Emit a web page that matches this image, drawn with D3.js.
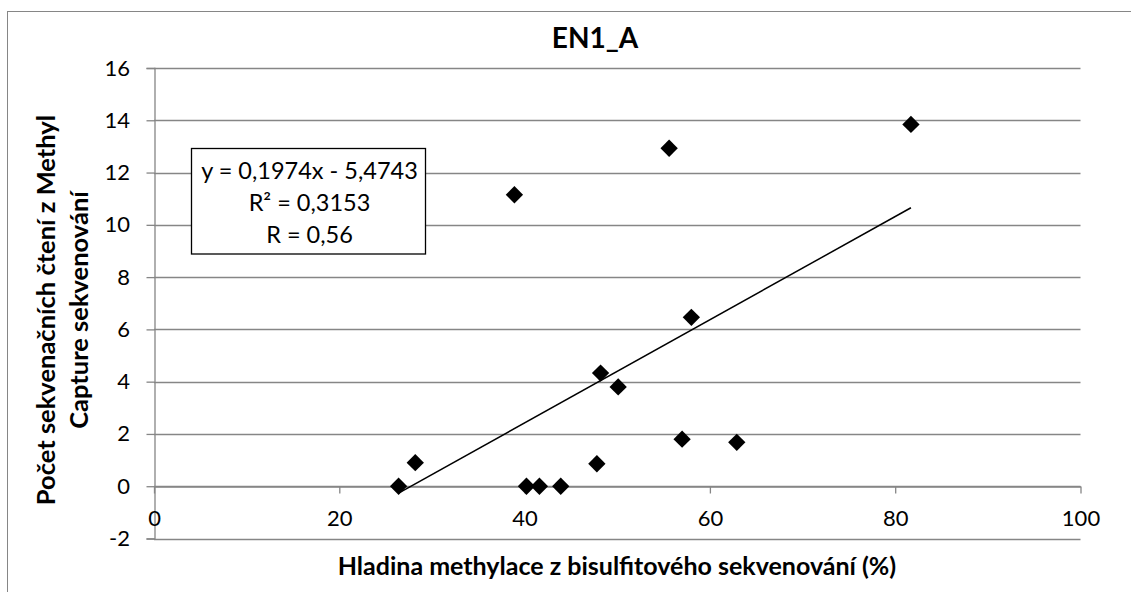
<!DOCTYPE html>
<html><head><meta charset="utf-8">
<script src="https://cdn.jsdelivr.net/npm/d3@7"></script>
<style>
body{margin:0;background:#fff;}
text{font-family:Lato, "Open Sans", sans-serif;fill:#000;}
</style></head>
<body>
<svg id="c" width="1131" height="592"></svg>
<script>
const title = "EN1_A";
const xLabel = "Hladina methylace z bisulfitového sekvenování (%)";
const yLabelLines = ["Počet sekvenačních čtení z Methyl", "Capture sekvenování"];
const xTicks = [0, 20, 40, 60, 80, 100];
const yTicks = [-2, 0, 2, 4, 6, 8, 10, 12, 14, 16];
const xValues = [26.4, 28.2, 40.2, 41.6, 43.9, 47.8, 48.2, 50.1, 57.0, 58.0, 62.9, 38.9, 55.6, 81.7];
const yValues = [0, 0.9, 0, 0, 0, 0.86, 4.33, 3.8, 1.8, 6.46, 1.68, 11.15, 12.93, 13.84];
const slope = 0.1974, intercept = -5.4743;
const eqLines = ["y = 0,1974x - 5,4743", "R² = 0,3153", "R = 0,56"];

const svg = d3.select("#c");
const L = 154, R = 1080.5, T = 68, B = 538.5;
const x = d3.scaleLinear().domain([0, 100]).range([L, R]);
const y = d3.scaleLinear().domain([-2, 16]).range([B, T]);
const grid = "#868686";
const tickFont = 22;

// outer chart border
svg.append("rect").attr("x", 7.5).attr("y", 11.5).attr("width", 1200).attr("height", 700)
  .attr("fill", "none").attr("stroke", grid).attr("stroke-width", 1);

// horizontal gridlines
svg.append("g").selectAll("line").data(yTicks).join("line")
  .attr("x1", L).attr("x2", R)
  .attr("y1", d => Math.round(y(d)) + 0.5).attr("y2", d => Math.round(y(d)) + 0.5)
  .attr("stroke", grid).attr("stroke-width", 1.3);

// y axis
const yAxis = svg.append("g").attr("transform", `translate(${L + 0.5},0)`)
  .call(d3.axisLeft(y).tickValues(yTicks).tickSize(8).tickPadding(16.5).tickFormat(d => d < 0 ? "-" + Math.abs(d) : String(d)));
yAxis.select(".domain").attr("stroke", grid).attr("stroke-width", 1.3);
yAxis.selectAll(".tick line").attr("stroke", grid).attr("stroke-width", 1.3);
yAxis.selectAll(".tick text").attr("font-size", tickFont).attr("font-family", "Lato, sans-serif").attr("fill", "#000");

// x axis at y=0
const xAxis = svg.append("g").attr("transform", `translate(0,${Math.round(y(0)) + 0.5})`)
  .call(d3.axisBottom(x).tickValues(xTicks).tickSizeInner(7).tickSizeOuter(0).tickPadding(17).tickFormat(d3.format("d")));
xAxis.select(".domain").attr("stroke", grid).attr("stroke-width", 1.3);
xAxis.selectAll(".tick line").attr("stroke", grid).attr("stroke-width", 1.3);
xAxis.selectAll(".tick text").attr("font-size", tickFont).attr("font-family", "Lato, sans-serif").attr("fill", "#000");

// trendline over data range
const xmin = d3.min(xValues), xmax = d3.max(xValues);
svg.append("line")
  .attr("x1", x(xmin)).attr("y1", y(slope * xmin + intercept))
  .attr("x2", x(xmax)).attr("y2", y(slope * xmax + intercept))
  .attr("stroke", "#000").attr("stroke-width", 1.5);

// points
const sym = d3.symbol(d3.symbolSquare, 150);
svg.append("g").selectAll("path").data(xValues.map((v, i) => [v, yValues[i]])).join("path")
  .attr("d", sym)
  .attr("transform", d => `translate(${x(d[0])},${y(d[1])}) rotate(45)`)
  .attr("fill", "#000");

// equation box
const bx = 191.5, by = 148.5, bw = 234, bh = 105.5;
svg.append("rect").attr("x", bx).attr("y", by).attr("width", bw).attr("height", bh)
  .attr("fill", "#fff").attr("stroke", "#000").attr("stroke-width", 1.3);
svg.append("g").selectAll("text").data(eqLines).join("text")
  .attr("x", bx + bw / 2 + 1).attr("y", (d, i) => 179 + i * 32)
  .attr("text-anchor", "middle").attr("font-size", 23.5).text(d => d);

// title
svg.append("text").attr("x", 595).attr("y", 48).attr("text-anchor", "middle")
  .attr("font-size", 28).attr("font-weight", "bold").text(title);

// x label
svg.append("text").attr("x", 617).attr("y", 575).attr("text-anchor", "middle")
  .attr("font-size", 25).attr("font-weight", "bold").text(xLabel);

// y label
const yl = svg.append("text").attr("transform", "translate(0,310) rotate(-90)")
  .attr("text-anchor", "middle").attr("font-size", 25.5).attr("font-weight", "bold");
yl.selectAll("tspan").data(yLabelLines).join("tspan")
  .attr("x", 0).attr("y", (d, i) => 55 + i * 33).text(d => d);
</script>
</body></html>
